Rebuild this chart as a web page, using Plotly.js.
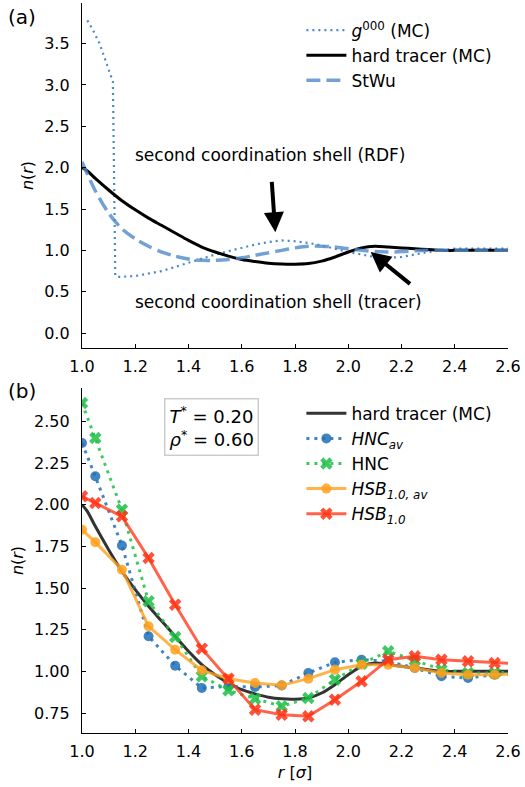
<!DOCTYPE html>
<html>
<head>
<meta charset="utf-8">
<script src="https://cdn.plot.ly/plotly-3.0.1.min.js"></script>
<style>html,body{margin:0;padding:0;background:#fff;}#chart{width:525px;height:787px;}</style>
</head>
<body>
<div id="chart"></div>
<script>
// ---------- panel (a) ----------
const g000_r = [1.02, 1.04, 1.066, 1.09, 1.116, 1.125, 1.14, 1.2, 1.25, 1.3, 1.35, 1.4, 1.45, 1.5, 1.55, 1.6, 1.65, 1.7, 1.75, 1.8, 1.85, 1.9, 1.95, 2.0, 2.05, 2.1, 2.15, 2.2, 2.25, 2.3, 2.35, 2.4, 2.5, 2.6];
const g000_n = [3.78, 3.67, 3.50, 3.27, 3.04, 0.69, 0.68, 0.69, 0.72, 0.75, 0.80, 0.85, 0.90, 0.95, 0.99, 1.03, 1.07, 1.10, 1.12, 1.11, 1.09, 1.06, 1.02, 0.98, 0.95, 0.92, 0.91, 0.92, 0.95, 0.98, 1.00, 1.02, 1.02, 1.02];

const tracer_r = [1.0, 1.02, 1.05, 1.1, 1.15, 1.2, 1.25, 1.3, 1.35, 1.4, 1.45, 1.5, 1.55, 1.6, 1.65, 1.7, 1.75, 1.8, 1.85, 1.9, 1.95, 2.0, 2.05, 2.1, 2.15, 2.2, 2.25, 2.3, 2.35, 2.4, 2.5, 2.6];
const tracer_n = [2.00, 1.96, 1.87, 1.73, 1.60, 1.49, 1.39, 1.30, 1.21, 1.12, 1.04, 0.98, 0.93, 0.89, 0.865, 0.845, 0.835, 0.833, 0.84, 0.87, 0.92, 0.98, 1.03, 1.05, 1.04, 1.03, 1.02, 1.01, 1.0, 1.0, 1.0, 1.0];

const stwu_r = [1.0, 1.05, 1.1, 1.15, 1.2, 1.25, 1.3, 1.35, 1.4, 1.45, 1.5, 1.55, 1.6, 1.65, 1.7, 1.75, 1.8, 1.85, 1.9, 1.95, 2.0, 2.05, 2.1, 2.15, 2.2, 2.25, 2.3, 2.4, 2.5, 2.6];
const stwu_n = [2.07, 1.72, 1.45, 1.26, 1.14, 1.05, 0.98, 0.93, 0.895, 0.88, 0.88, 0.89, 0.91, 0.94, 0.97, 1.00, 1.03, 1.05, 1.05, 1.04, 1.02, 1.00, 0.985, 0.98, 0.985, 0.995, 1.0, 1.0, 1.0, 1.0];

// ---------- panel (b) ----------
const bin_r   = [1.0, 1.05, 1.15, 1.25, 1.35, 1.45, 1.55, 1.65, 1.75, 1.85, 1.95, 2.05, 2.15, 2.25, 2.35, 2.45, 2.55, 2.65];
const hnc_av  = [2.37, 2.17, 1.755, 1.21, 1.034, 0.90, 0.91, 0.906, 0.915, 0.99, 1.054, 1.07, 1.06, 1.02, 0.97, 0.96, 0.98, 0.99];
const hnc     = [2.61, 2.40, 1.97, 1.42, 1.206, 0.97, 0.886, 0.836, 0.79, 0.84, 0.95, 1.045, 1.12, 1.066, 1.01, 0.99, 0.99, 1.0];
const hsb_av  = [1.85, 1.775, 1.61, 1.27, 1.13, 1.006, 0.956, 0.93, 0.916, 0.956, 1.01, 1.04, 1.04, 1.02, 0.99, 0.98, 0.98, 0.985];
const hsb     = [2.05, 2.01, 1.93, 1.68, 1.40, 1.136, 0.956, 0.77, 0.74, 0.73, 0.83, 0.94, 1.07, 1.09, 1.07, 1.06, 1.05, 1.045];

const xticks = [1.0, 1.2, 1.4, 1.6, 1.8, 2.0, 2.2, 2.4, 2.6];
const yticksA = [0.0, 0.5, 1.0, 1.5, 2.0, 2.5, 3.0, 3.5];
const yticksB = [0.75, 1.00, 1.25, 1.50, 1.75, 2.00, 2.25, 2.50];

const FONT = 'DejaVu Sans, Liberation Sans, sans-serif';

const traces = [
  {x: g000_r, y: g000_n, xaxis: 'x', yaxis: 'y', mode: 'lines', name: '<i>g</i><sup>000</sup> (MC)',
   line: {color: '#4a88cc', width: 2.2, dash: '2px,4px'}, legend: 'legend', legendgroup: 'a1'},
  {x: tracer_r, y: tracer_n, xaxis: 'x', yaxis: 'y', mode: 'lines', name: 'hard tracer (MC)',
   line: {color: '#000000', width: 3, shape: 'spline', smoothing: 0.8}, legend: 'legend', legendgroup: 'a2'},
  {x: stwu_r, y: stwu_n, xaxis: 'x', yaxis: 'y', mode: 'lines', name: 'StWu',
   line: {color: 'rgba(80,138,200,0.8)', width: 3.5, dash: '14px,6px', shape: 'spline', smoothing: 0.8}, legend: 'legend', legendgroup: 'a3'},

  {x: tracer_r, y: tracer_n, xaxis: 'x2', yaxis: 'y2', mode: 'lines', name: 'hard tracer (MC)',
   line: {color: '#333333', width: 3, shape: 'spline', smoothing: 0.8}, legend: 'legend2', legendgroup: 'b1'},
  {x: bin_r, y: hnc_av, xaxis: 'x2', yaxis: 'y2', mode: 'lines+markers', name: '<i>HNC<sub>av</sub></i>',
   line: {color: 'rgba(31,112,180,0.85)', width: 3, dash: '3px,5px'},
   marker: {symbol: 'circle', size: 10, color: 'rgba(31,112,180,0.85)'}, legend: 'legend2', legendgroup: 'b2', cliponaxis: true},
  {x: bin_r, y: hnc, xaxis: 'x2', yaxis: 'y2', mode: 'lines+markers', name: 'HNC',
   line: {color: 'rgba(30,190,70,0.85)', width: 3, dash: '3px,5px'},
   marker: {symbol: 'x', size: 11, color: 'rgba(30,190,70,0.85)'}, legend: 'legend2', legendgroup: 'b3', cliponaxis: true},
  {x: bin_r, y: hsb_av, xaxis: 'x2', yaxis: 'y2', mode: 'lines+markers', name: '<i>HSB<sub>1.0, av</sub></i>',
   line: {color: 'rgba(255,160,30,0.8)', width: 3},
   marker: {symbol: 'circle', size: 10, color: 'rgba(255,160,30,0.85)'}, legend: 'legend2', legendgroup: 'b4', cliponaxis: true},
  {x: bin_r, y: hsb, xaxis: 'x2', yaxis: 'y2', mode: 'lines+markers', name: '<i>HSB<sub>1.0</sub></i>',
   line: {color: 'rgba(255,60,30,0.8)', width: 3},
   marker: {symbol: 'x', size: 11, color: 'rgba(255,50,20,0.85)'}, legend: 'legend2', legendgroup: 'b5', cliponaxis: true}
];

function xax(anchor) {
  return {anchor: anchor, domain: [0, 1], range: [1.0, 2.6], tickvals: xticks, tickformat: '.1f',
    showline: true, linecolor: '#000', linewidth: 1.2, showgrid: false, zeroline: false,
    ticks: 'inside', ticklen: 4, tickwidth: 1, tickcolor: '#000', ticklabelstandoff: 4,
    tickfont: {family: FONT, size: 16, color: '#000'}};
}
function yax(anchor, dom, rng, tv, fmt) {
  return {anchor: anchor, domain: dom, range: rng, tickvals: tv, tickformat: fmt,
    showline: true, linecolor: '#000', linewidth: 1.2, showgrid: false, zeroline: false,
    ticks: 'inside', ticklen: 4, tickwidth: 1, tickcolor: '#000', ticklabelstandoff: 8,
    tickfont: {family: FONT, size: 16, color: '#000'},
    title: {text: '<i>n</i>(<i>r</i>)', font: {family: FONT, size: 16, color: '#000'}, standoff: 6}};
}

const xa = xax('y');
const xb = xax('y2');
xb.title = {text: '<i>r</i> [<i>σ</i>]', font: {family: FONT, size: 16, color: '#000'}, standoff: 6};

const layout = {
  width: 525, height: 787,
  margin: {l: 82, r: 17, t: 3, b: 54},
  paper_bgcolor: '#fff', plot_bgcolor: '#fff',
  font: {family: FONT, size: 16, color: '#000'},
  xaxis: xa,
  yaxis: yax('x', [0.5274, 1], [-0.18, 3.99], yticksA, '.1f'),
  xaxis2: xb,
  yaxis2: yax('x2', [0, 0.4726], [0.63, 2.70], yticksB, '.2f'),
  showlegend: true,
  legend: {x: 0.515, y: 0.987, xanchor: 'left', yanchor: 'top', bgcolor: 'rgba(0,0,0,0)',
    font: {family: FONT, size: 17}, tracegroupgap: 0, itemwidth: 40},
  legend2: {x: 0.515, y: 0.462, xanchor: 'left', yanchor: 'top', bgcolor: 'rgba(0,0,0,0)',
    font: {family: FONT, size: 17}, tracegroupgap: 0, itemwidth: 40},
  annotations: [
    {text: '(a)', xref: 'paper', yref: 'paper', x: -0.141, y: 1.0, xanchor: 'center', yanchor: 'top',
     showarrow: false, font: {family: FONT, size: 20}},
    {text: '(b)', xref: 'paper', yref: 'paper', x: -0.141, y: 0.487, xanchor: 'center', yanchor: 'top',
     showarrow: false, font: {family: FONT, size: 20}},
    {text: 'second coordination shell (RDF)', xref: 'x', yref: 'y', x: 1.707, y: 2.15,
     showarrow: false, font: {family: FONT, size: 17}},
    {text: ' ', xref: 'x', yref: 'y', x: 1.726, y: 1.22, axref: 'x', ayref: 'y', ax: 1.71, ay: 1.96,
     showarrow: true, arrowhead: 2, arrowsize: 1, arrowwidth: 4, arrowcolor: '#000'},
    {text: 'second coordination shell (tracer)', xref: 'x', yref: 'y', x: 1.737, y: 0.37,
     showarrow: false, font: {family: FONT, size: 17}},
    {text: ' ', xref: 'x', yref: 'y', x: 2.084, y: 0.98, axref: 'x', ayref: 'y', ax: 2.247, ay: 0.556,
     showarrow: true, arrowhead: 2, arrowsize: 1, arrowwidth: 4, arrowcolor: '#000'},
    {text: '<i>T</i><sup>*</sup> = 0.20<br><i>ρ</i><sup>*</sup> = 0.60', xref: 'x2 domain', yref: 'y2 domain',
     x: 0.303, y: 0.887, xanchor: 'center', yanchor: 'middle', showarrow: false, align: 'left',
     font: {family: FONT, size: 18}, bordercolor: '#cccccc', borderwidth: 1.5, borderpad: 4, bgcolor: '#fff'}
  ]
};

Plotly.newPlot('chart', traces, layout, {displayModeBar: false, staticPlot: true});
</script>
</body>
</html>
